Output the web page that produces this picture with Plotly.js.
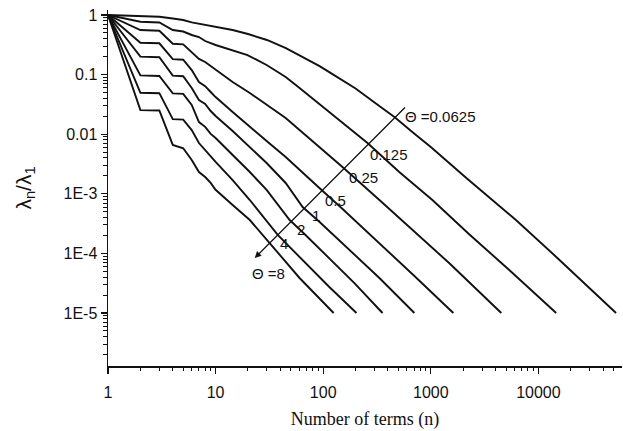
<!DOCTYPE html>
<html><head><meta charset="utf-8">
<script src="https://cdn.plot.ly/plotly-3.0.1.min.js"></script>
<style>html,body{margin:0;padding:0;background:#fff}#c{width:623px;height:431px}</style>
</head><body><div id="c"></div>
<script>
const thetaLabels = ['0.0625','0.125','0.25','0.5','1','2','4','8'];
const n1 = [1,2,3,4,5,6,8,10,14.4,20,30,45,60,92.6,122,200,300,459,700,1000,2140,3726,6220,15000,30000,52700];
const l1 = [1,0.962,0.936,0.874,0.824,0.754,0.679,0.629,0.56,0.48,0.381,0.279,0.213,0.139,0.102,0.0585,0.034,0.0194,0.01028,0.0061,0.00184,7.9e-4,3.6e-4,8.4e-5,2.6e-5,1e-5];
const n2 = [1,2,3,4,5,6,7,8,10,14.4,19.8,29.8,44.8,60.3,92.6,142,258,509,1035,2260,5360,14630];
const l2 = [1,0.772,0.748,0.56,0.528,0.462,0.427,0.366,0.314,0.259,0.213,0.145,0.0912,0.0596,0.0321,0.0173,0.00711,0.00232,7.87e-4,2.12e-4,5.26e-5,1e-5];
const n3 = [1,2,3,4,5,6,7,8,9,10,14.4,20.8,29.8,44.8,60.3,92.6,151,333,633,1480,4520];
const l3 = [1,0.56,0.545,0.33,0.322,0.24,0.183,0.163,0.139,0.119,0.0751,0.0491,0.0309,0.0187,0.01175,0.0061,0.00282,7.87e-4,2.77e-4,6.9e-5,1e-5];
const n4 = [1,2,3,4,5,6,7,8,9,10,14.4,20.8,29.8,44.8,60.3,96.6,148,333,704,1620];
const l4 = [1,0.343,0.335,0.182,0.178,0.119,0.075,0.064,0.0511,0.042,0.0236,0.0132,0.0077,0.00414,0.00251,0.00116,5.78e-4,1.49e-4,4.18e-5,1e-5];
const n5 = [1,2,3,4,5,6,7,8,9,10,14.4,20.8,29.8,44.8,64.4,92.6,176,333,704];
const l5 = [1,0.2,0.196,0.096,0.094,0.0595,0.0375,0.0322,0.0245,0.0202,0.0113,0.0061,0.00329,0.00152,6.0e-4,3.37e-4,1.14e-4,3.87e-5,1e-5];
const n6 = [1,2,3,4,5,6,7,8,9,10,14.4,20.8,29.8,48.8,67,114,195,356];
const l6 = [1,0.097,0.095,0.0484,0.0475,0.031,0.016,0.0133,0.0101,0.00863,0.00448,0.00232,0.00116,3.63e-4,2.12e-4,8.37e-5,3.18e-5,1e-5];
const n7 = [1,2,3,4,5,6,7,8,9,10,14.4,20.8,37.8,60.3,114,204];
const l7 = [1,0.0496,0.0488,0.0179,0.0176,0.0117,0.0071,0.0054,0.0043,0.00342,0.0017,7.87e-4,2.04e-4,8.7e-5,2.73e-5,1e-5];
const n8 = [1,2,3,4,5,6,7,8,9,10,14.4,20.8,31.8,60.3,125];
const l8 = [1,0.0253,0.025,0.0066,0.0058,0.0037,0.00232,0.00191,0.00152,0.00117,6.49e-4,3.63e-4,1.49e-4,3.87e-5,1e-5];

const xTickVals = [1,10,100,1000,10000];
const xTickText = ['1','10','100','1000','10000'];
const yTickVals = [1,0.1,0.01,1e-3,1e-4,1e-5];
const yTickText = ['1','0.1','0.01','1E-3','1E-4','1E-5'];

const ns = [n1,n2,n3,n4,n5,n6,n7,n8];
const ls = [l1,l2,l3,l4,l5,l6,l7,l8];
const traces = ns.map((n,i)=>({x:n,y:ls[i],mode:'lines',type:'scatter',name:thetaLabels[i],
  line:{color:'#111',width:1.9},hoverinfo:'skip'}));

function minorVals(lo,hi){const v=[];for(let e=lo;e<hi;e++){for(let k=2;k<=9;k++)v.push(k*Math.pow(10,e));}return v;}

const sans = 'Liberation Sans, Arial, sans-serif';
const L = (t,x,y)=>({text:t,x:x,y:y,xref:'x',yref:'y',showarrow:false,xanchor:'left',yanchor:'middle',font:{family:sans,size:15,color:'#111'}});
const annotations = [
  L('Θ =0.0625',2.737,-1.711),
  L('0.125',2.412,-2.332),
  L('0.25',2.217,-2.718),
  L('0.5',1.994,-3.104),
  L('1',1.874,-3.356),
  L('2',1.735,-3.607),
  L('4',1.577,-3.826),
  L('Θ =8',1.317,-4.329),
  {x:1.364,y:-4.077,ax:2.774,ay:-1.527,xref:'x',yref:'y',axref:'x',ayref:'y',text:'',showarrow:true,arrowhead:2,arrowsize:1,arrowwidth:1.3,arrowcolor:'#111'}
];

const layout = {
  width:623,height:431,margin:{l:108,r:1,t:10,b:65},
  paper_bgcolor:'#fff',plot_bgcolor:'#fff',showlegend:false,
  xaxis:{type:'log',range:[0,4.777],showgrid:false,zeroline:false,showline:true,linecolor:'#111',linewidth:1.5,
    ticks:'outside',ticklen:6,tickwidth:1.3,tickcolor:'#111',tickmode:'array',tickvals:xTickVals,ticktext:xTickText,
    ticklabelstandoff:5,
    tickfont:{family:sans,size:16,color:'#111'},
    minor:{ticks:'outside',ticklen:3.5,tickwidth:1,tickcolor:'#111',tickmode:'array',tickvals:minorVals(0,5),showgrid:false},
    title:{text:'Number of terms (n)',font:{family:'Liberation Serif, Times New Roman, serif',size:18,color:'#111'},standoff:12}},
  yaxis:{type:'log',range:[-5.889,0.084],showgrid:false,zeroline:false,showline:true,linecolor:'#111',linewidth:1.5,
    ticks:'outside',ticklen:6,tickwidth:1.3,tickcolor:'#111',tickmode:'array',tickvals:yTickVals,ticktext:yTickText,
    tickfont:{family:sans,size:16,color:'#111'},
    minor:{ticks:'outside',ticklen:3.5,tickwidth:1,tickcolor:'#111',tickmode:'array',tickvals:minorVals(-6,0),showgrid:false},
    title:{text:'λ<sub>n</sub>/λ<sub>1</sub>',font:{family:sans,size:21,color:'#111'},standoff:26}},
  annotations:annotations
};
Plotly.newPlot('c',traces,layout,{staticPlot:true,displayModeBar:false});
</script></body></html>
